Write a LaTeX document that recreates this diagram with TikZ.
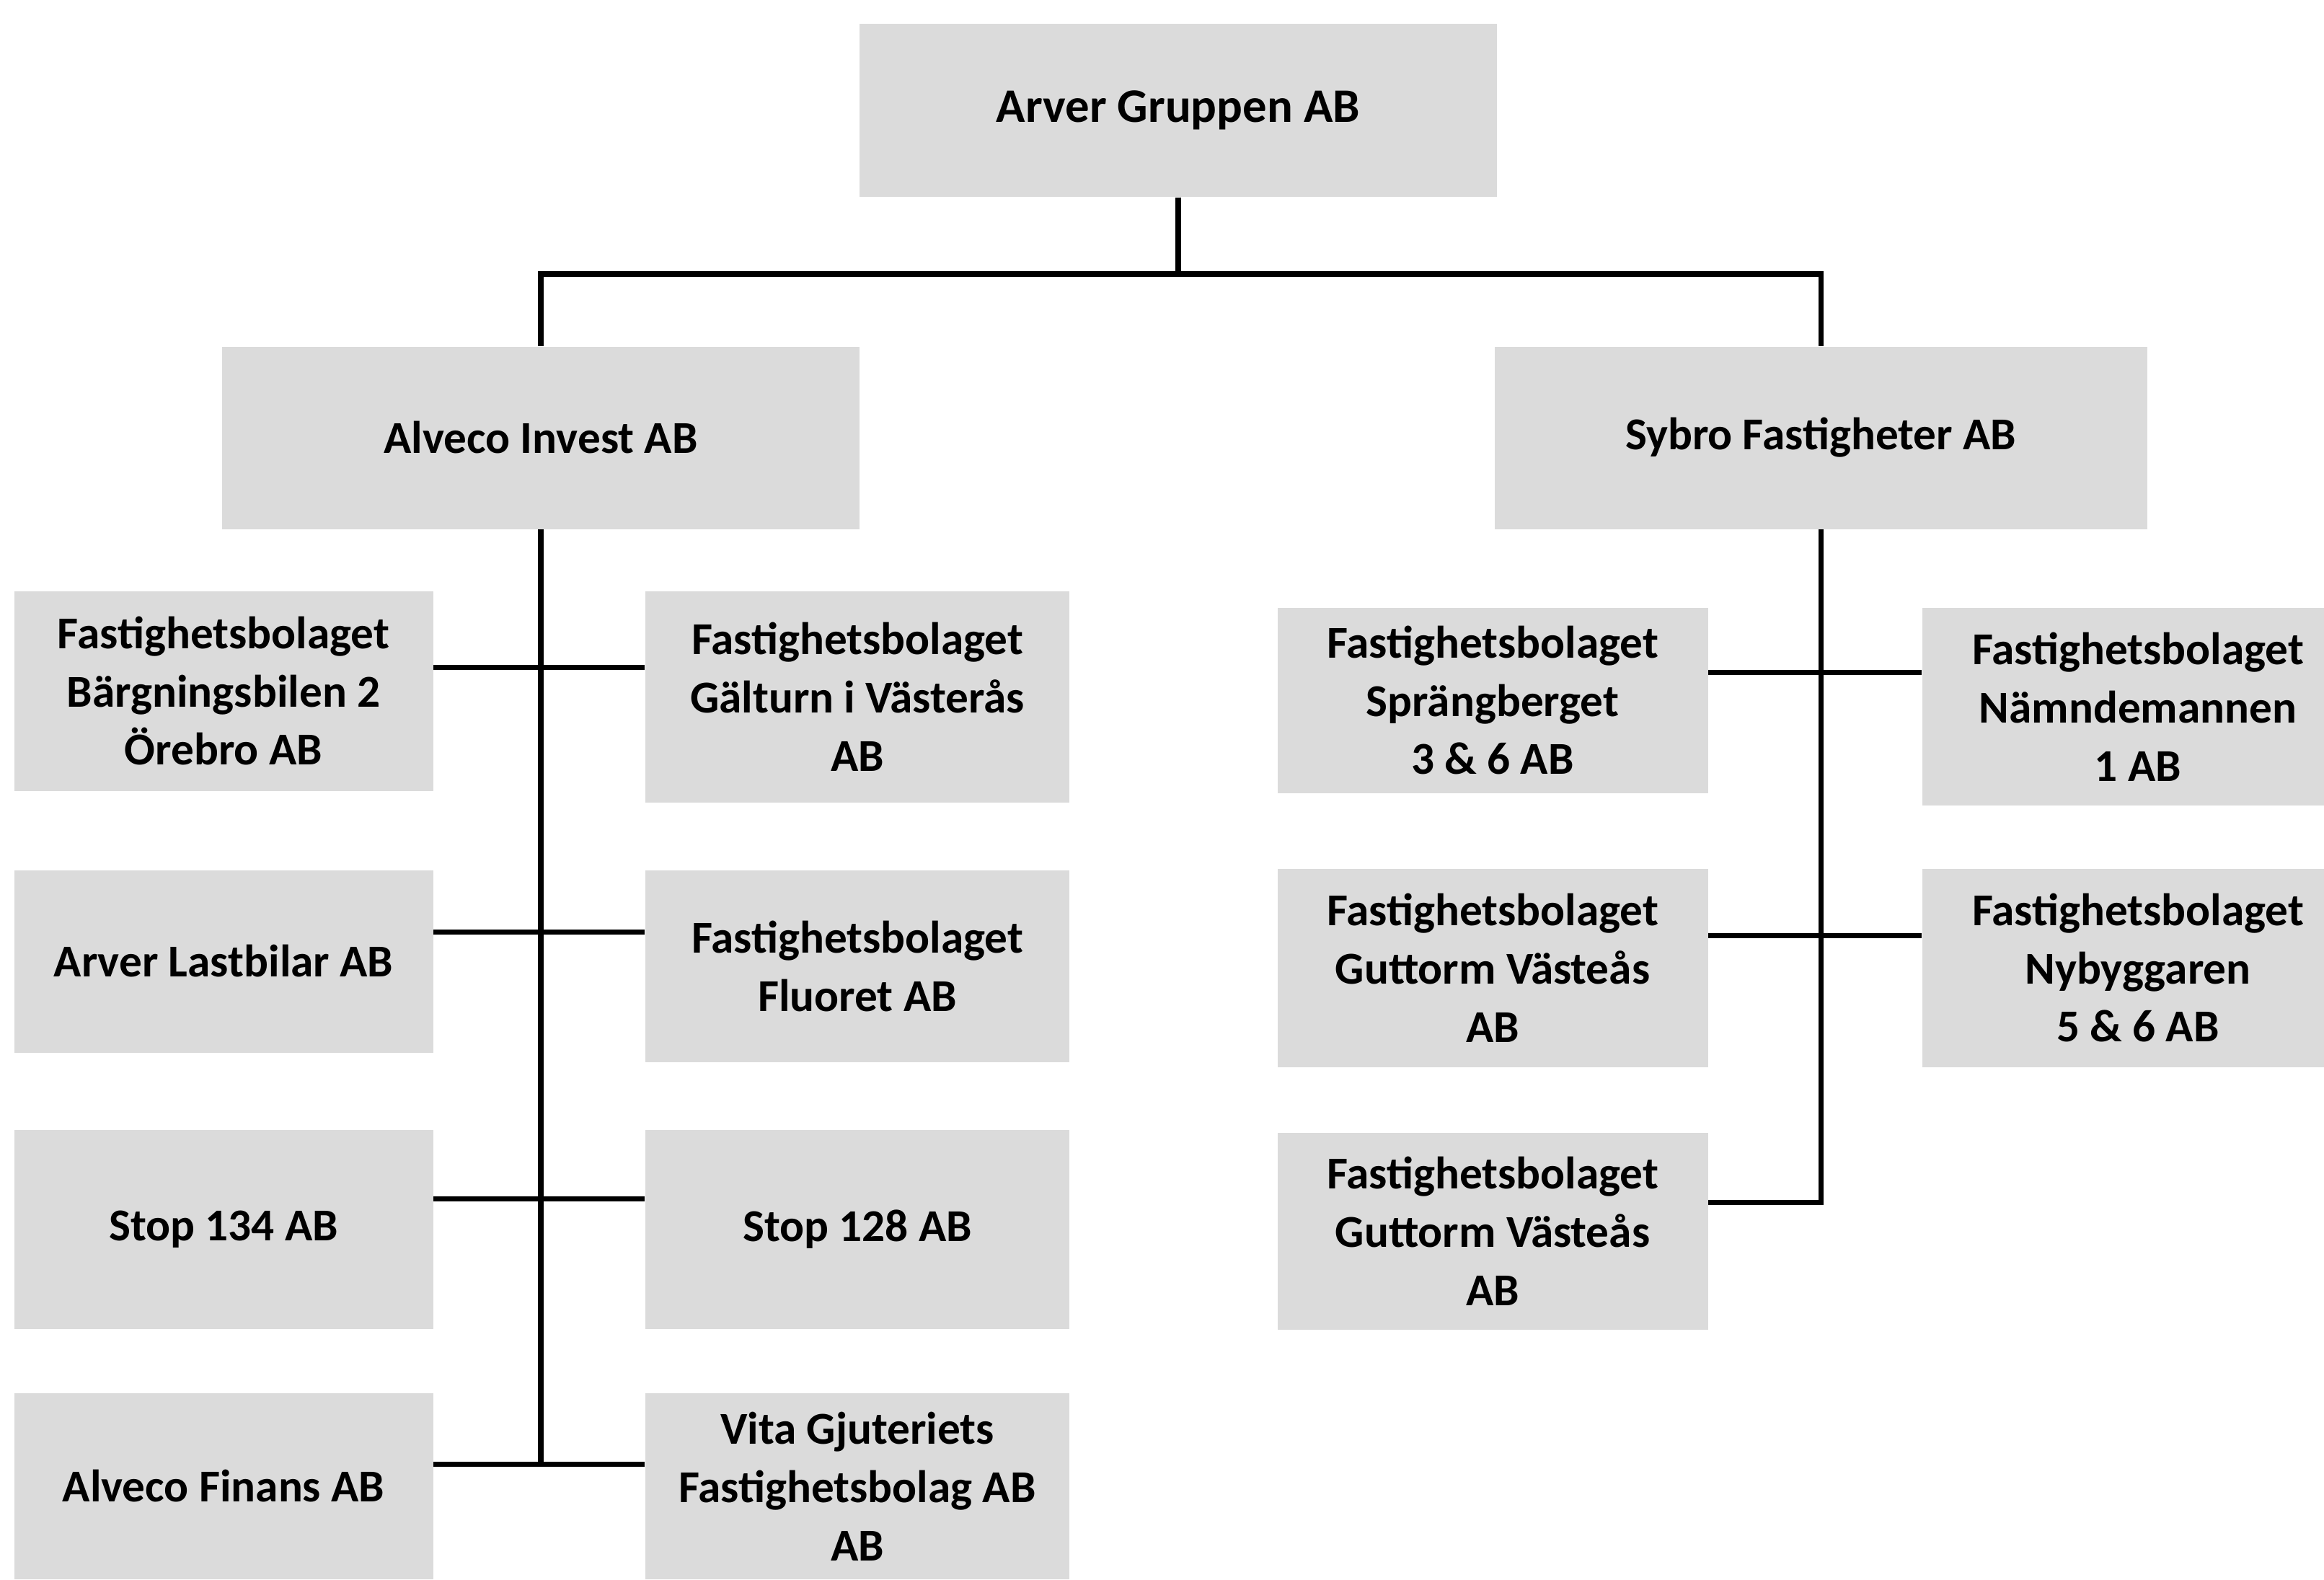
\documentclass[tikz,border=0pt]{standalone}
\usepackage{fontspec}
\setmainfont{Carlito}
\definecolor{boxgray}{gray}{0.86}
\begin{document}
\begin{tikzpicture}[
  company/.style={fill=boxgray, inner sep=2pt, align=center,
    font=\bfseries\fontsize{18}{23}\selectfont},
  link/.style={line width=2pt}
]
\useasboundingbox (0,0) rectangle (32.23,-21.90);

% Top level
\node[company, minimum width=8.84cm, minimum height=2.40cm,
  font=\bfseries\fontsize{19}{23}\selectfont] (root) at (16.34,-1.53) {Arver Gruppen AB};
\node[company, minimum width=8.84cm, minimum height=2.53cm] (alveco) at (7.50,-6.07) {Alveco Invest AB};
\node[company, minimum width=9.05cm, minimum height=2.53cm] (sybro) at (25.25,-6.07) {Sybro Fastigheter AB};
\coordinate (bus) at (16.34,-3.80);

% Alveco Invest, left column
\node[company, minimum width=5.81cm, minimum height=2.77cm] (bargning) at (3.10,-9.58) {Fastighetsbolaget\\Bärgningsbilen 2\\Örebro AB};
\node[company, minimum width=5.81cm, minimum height=2.53cm] (lastbilar) at (3.10,-13.33) {Arver Lastbilar AB};
\node[company, minimum width=5.81cm, minimum height=2.76cm] (stop134) at (3.10,-17.05) {Stop 134 AB};
\node[company, minimum width=5.81cm, minimum height=2.58cm] (finans) at (3.10,-20.61) {Alveco Finans AB};

% Alveco Invest, right column
\node[company, minimum width=5.88cm, minimum height=2.93cm] (galturn) at (11.89,-9.66) {Fastighetsbolaget\\Gälturn i Västerås\\AB};
\node[company, minimum width=5.88cm, minimum height=2.66cm] (fluoret) at (11.89,-13.40) {Fastighetsbolaget\\Fluoret AB};
\node[company, minimum width=5.88cm, minimum height=2.76cm] (stop128) at (11.89,-17.05) {Stop 128 AB};
\node[company, minimum width=5.88cm, minimum height=2.58cm] (vita) at (11.89,-20.61) {Vita Gjuteriets\\Fastighetsbolag AB\\AB};

% Sybro Fastigheter
\node[company, minimum width=5.97cm, minimum height=2.57cm] (sprang) at (20.70,-9.71) {Fastighetsbolaget\\Sprängberget\\3 \& 6 AB};
\node[company, minimum width=5.97cm, minimum height=2.75cm] (guttorm) at (20.70,-13.42) {Fastighetsbolaget\\Guttorm Västeås\\AB};
\node[company, minimum width=5.97cm, minimum height=2.73cm] (guttormb) at (20.70,-17.07) {Fastighetsbolaget\\Guttorm Västeås\\AB};
\node[company, minimum width=5.98cm, minimum height=2.74cm] (namnd) at (29.65,-9.80) {Fastighetsbolaget\\Nämndemannen\\1 AB};
\node[company, minimum width=5.98cm, minimum height=2.75cm] (nybygg) at (29.65,-13.42) {Fastighetsbolaget\\Nybyggaren\\5 \& 6 AB};

% Connectors
\draw[link] (root.south) -- (bus);
\draw[link] (alveco.north) |- (bus) -| (sybro.north);
\draw[link] (alveco.south) -- (alveco.south |- 0,-20.30);
\draw[link] (bargning.east |- 0,-9.25) -- (galturn.west |- 0,-9.25);
\draw[link] (lastbilar.east |- 0,-12.92) -- (fluoret.west |- 0,-12.92);
\draw[link] (stop134.east |- 0,-16.62) -- (stop128.west |- 0,-16.62);
\draw[link] (finans.east |- 0,-20.30) -- (vita.west |- 0,-20.30);
\draw[link] (sybro.south) -- (sybro.south |- 0,-16.67) -- (guttormb.east |- 0,-16.67);
\draw[link] (sprang.east |- 0,-9.32) -- (namnd.west |- 0,-9.32);
\draw[link] (guttorm.east |- 0,-12.97) -- (nybygg.west |- 0,-12.97);
\end{tikzpicture}
\end{document}
